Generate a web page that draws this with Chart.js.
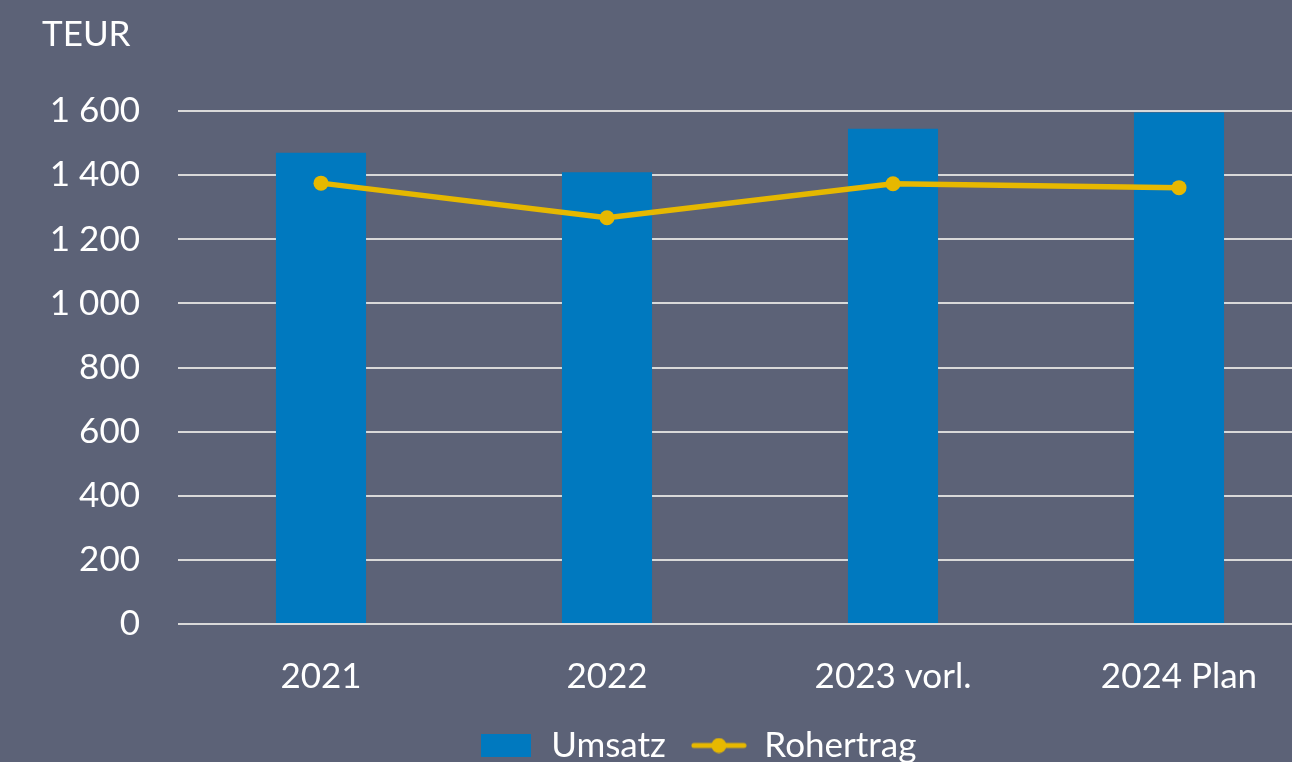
<!DOCTYPE html>
<html>
<head>
<meta charset="utf-8">
<script src="https://cdn.jsdelivr.net/npm/chart.js@4"></script>
<style>
    html, body { margin: 0; padding: 0; background: #5c6277; overflow: hidden; }
    #wrap { width: 1352px; height: 773px; }
</style>
</head>
<body>
<div id="wrap"><canvas id="chart" width="1352" height="773"></canvas></div>
<script>
// Chart data
const years = ['2021', '2022', '2023 vorl.', '2024 Plan'];
const umsatz = [1470, 1409, 1545, 1595];
const rohertrag = [1375, 1267, 1373, 1361];
const yTicks = [0, 200, 400, 600, 800, 1000, 1200, 1400, 1600];

const fontFamily = 'Lato, "Open Sans", sans-serif';
const textColor = '#ffffff';
const barColor = '#0079bf';
const lineColor = '#e6b800';

function formatNumber(v) {
    return String(v).replace(/\B(?=(\d{3})+(?!\d))/g, ' ');
}

// Legend symbols drawn as small canvases
function barSymbol() {
    const c = document.createElement('canvas');
    c.width = 50; c.height = 23;
    const ctx = c.getContext('2d');
    ctx.fillStyle = barColor;
    ctx.fillRect(0, 0, 50, 23);
    return c;
}

function lineSymbol() {
    const c = document.createElement('canvas');
    c.width = 56; c.height = 16;
    const ctx = c.getContext('2d');
    ctx.strokeStyle = lineColor;
    ctx.lineWidth = 5;
    ctx.lineCap = 'round';
    ctx.beginPath();
    ctx.moveTo(3, 8);
    ctx.lineTo(53, 8);
    ctx.stroke();
    ctx.fillStyle = lineColor;
    ctx.beginPath();
    ctx.arc(28, 8, 7.5, 0, Math.PI * 2);
    ctx.fill();
    return c;
}

new Chart(document.getElementById('chart'), {
    data: {
        labels: years,
        datasets: [{
            type: 'line',
            label: 'Rohertrag',
            data: rohertrag,
            borderColor: lineColor,
            backgroundColor: lineColor,
            borderWidth: 5.5,
            pointRadius: 7.5,
            pointHoverRadius: 7.5,
            pointBorderWidth: 0,
            tension: 0,
            order: 0
        }, {
            type: 'bar',
            label: 'Umsatz',
            data: umsatz,
            backgroundColor: barColor,
            categoryPercentage: 1,
            barPercentage: 0.315,
            order: 1
        }]
    },
    options: {
        responsive: false,
        animation: false,
        layout: {
            padding: { left: 42, top: 14, right: 0, bottom: 0 }
        },
        plugins: {
            title: {
                display: true,
                text: 'TEUR',
                align: 'start',
                color: textColor,
                font: { family: fontFamily, size: 35, weight: 'normal' },
                padding: { top: 0, bottom: 55 }
            },
            legend: {
                position: 'bottom',
                reverse: true,
                labels: {
                    color: textColor,
                    font: { family: fontFamily, size: 35 },
                    usePointStyle: true,
                    pointStyleWidth: 56,
                    padding: 25,
                    generateLabels(chart) {
                        const items = Chart.defaults.plugins.legend.labels.generateLabels(chart);
                        items.forEach(it => {
                            it.pointStyle = it.text === 'Rohertrag' ? lineSymbol() : barSymbol();
                        });
                        return items;
                    }
                }
            },
            tooltip: { enabled: false }
        },
        scales: {
            x: {
                grid: { display: false, drawTicks: false },
                border: { display: false },
                ticks: {
                    color: textColor,
                    font: { family: fontFamily, size: 35 },
                    padding: 32,
                    maxRotation: 0
                },
                afterFit(axis) {
                    axis.height = 79;
                }
            },
            y: {
                min: 0,
                max: 1600,
                afterBuildTicks(axis) {
                    axis.ticks = yTicks.map(v => ({ value: v }));
                },
                afterFit(axis) {
                    axis.width = 136;
                },
                grid: { color: '#d9d9d9', lineWidth: 2, drawTicks: false },
                border: { display: false },
                ticks: {
                    color: textColor,
                    font: { family: fontFamily, size: 35 },
                    padding: 38,
                    callback: v => formatNumber(v)
                }
            },
            yRight: {
                position: 'right',
                display: true,
                grid: { display: false, drawTicks: false },
                border: { display: false },
                ticks: { display: false },
                afterFit(axis) {
                    axis.width = 30;
                }
            }
        }
    }
});
</script>
</body>
</html>
